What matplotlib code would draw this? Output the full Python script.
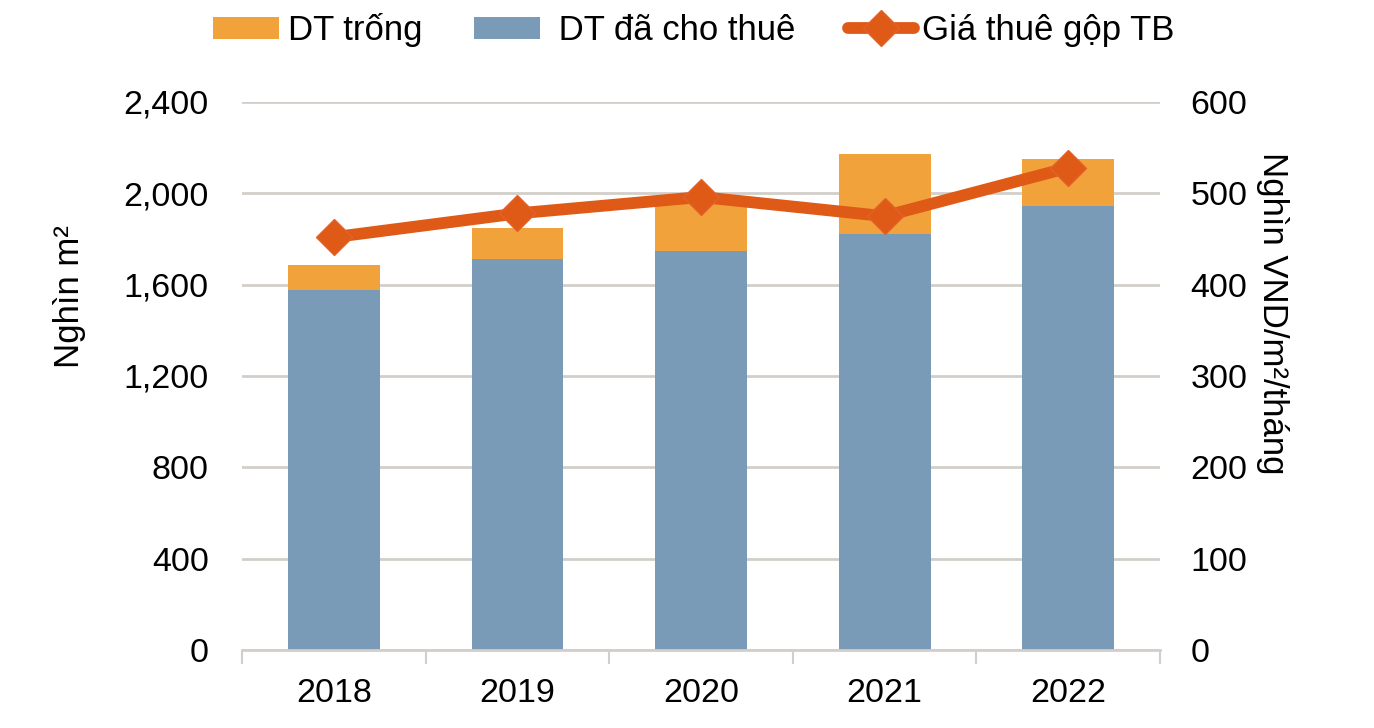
import matplotlib
matplotlib.use("Agg")
import matplotlib.pyplot as plt
import numpy as np

plt.rcParams['font.family'] = ['Liberation Sans', 'DejaVu Sans']

years = ["2018", "2019", "2020", "2021", "2022"]
leased = [1577, 1712, 1747, 1822, 1945]       # DT đã cho thuê
vacant = [108, 136, 220, 350, 205]            # DT trống
rent = [452, 478, 496, 475, 528]              # Giá thuê gộp TB

c_orange = "#F2A23A"
c_blue = "#799BB7"
c_line = "#DE5A16"
c_grid = "#D3CECA"

fig = plt.figure(figsize=(13.74, 7.28), dpi=100)
ax = fig.add_axes([242/1374, 1-650/728, (1160-242)/1374, (650-102)/728])
ax2 = ax.twinx()

x = np.arange(len(years))
b1 = ax.bar(x, leased, width=0.5, color=c_blue, zorder=2, label="DT đã cho thuê")
b2 = ax.bar(x, vacant, width=0.5, bottom=leased, color=c_orange, zorder=2, label="DT trống")
ln, = ax2.plot(x, rent, color=c_line, lw=8.5, marker="D", markersize=18,
               markeredgecolor="#E4622A", markeredgewidth=1, zorder=5,
               label="Giá thuê gộp TB", solid_capstyle="round")

ax.set_xlim(-0.5, 4.5)
ax.set_ylim(0, 2400)
ax2.set_ylim(0, 600)
ax.set_yticks(np.arange(0, 2401, 400))
ax.set_yticklabels([f"{v:,}" for v in range(0, 2401, 400)])
ax2.set_yticks(np.arange(0, 601, 100))

ax.yaxis.grid(True, color=c_grid, lw=2, zorder=0)
ax.set_axisbelow(True)

for a in (ax, ax2):
    for s in ("left", "right", "top"):
        a.spines[s].set_visible(False)
ax.spines["bottom"].set_color(c_grid)
ax.spines["bottom"].set_linewidth(2)
ax2.spines["bottom"].set_visible(False)

ax.set_xticks(np.arange(-0.5, 4.6, 1.0))
ax.set_xticklabels([])
ax.tick_params(axis="x", which="major", length=10, width=1.5, color=c_grid, direction="out")
ax.set_xticks(x, minor=True)
ax.set_xticklabels(years, minor=True)
ax.tick_params(axis="x", which="minor", length=0, pad=20, labelsize=24.5)

ax.tick_params(axis="y", length=0, pad=24, labelsize=24.5)
ax2.tick_params(axis="y", length=0, pad=22, labelsize=24.5)

fig.text(70/1374, 1-297/728, "Nghìn m²", fontsize=25, rotation=90,
         ha="center", va="center")
fig.text(1273/1374, 1-313/728, "Nghìn VND/m²/tháng", fontsize=25, rotation=-90,
         ha="center", va="center")

leg = fig.legend([b2, b1, ln], ["DT trống", " DT đã cho thuê", "Giá thuê gộp TB"],
                 loc="upper center", bbox_to_anchor=(0.505, 1.025), ncol=3, frameon=False,
                 fontsize=25, handlelength=1.9, handleheight=0.6, handletextpad=0.25,
                 columnspacing=1.5)

fig.savefig("out.png", dpi=100)
